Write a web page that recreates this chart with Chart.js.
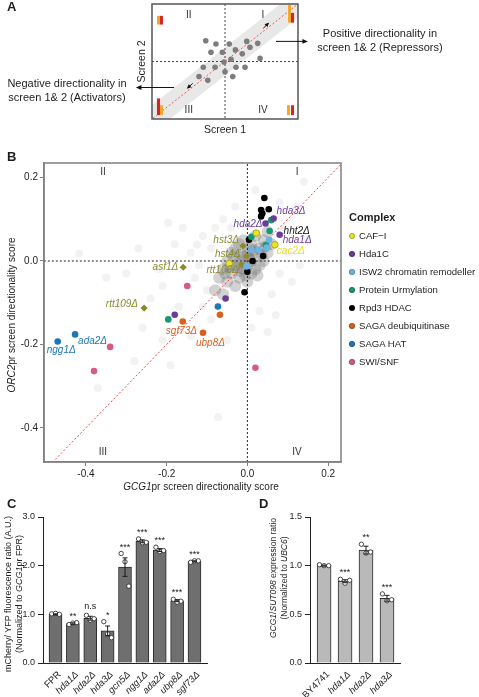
<!DOCTYPE html>
<html>
<head>
<meta charset="utf-8">
<title>Directionality screen</title>
<script src="https://cdn.jsdelivr.net/npm/chart.js@4.4.1/dist/chart.umd.min.js"></script>
<style>
  body { margin: 0; background: #fff; }
  #page { position: relative; width: 479px; height: 697px; overflow: hidden; font-family: "Liberation Sans", Arial, sans-serif; color: #1e1e1e; }
  #page canvas { position: absolute; }
  .txt { position: absolute; white-space: nowrap; z-index: 2; }
  .letter { font-weight: bold; font-size: 13px; line-height: 13px; }
  .center { transform: translateX(-50%); text-align: center; }
  .vert { transform: translate(-50%, -50%) rotate(-90deg); text-align: center; }
  .legend-row { position: absolute; left: 0; font-size: 9.6px; line-height: 12px; white-space: nowrap; }
  .dot { display: inline-block; width: 6px; height: 6px; border-radius: 50%; margin-right: 4px; vertical-align: 0px; box-sizing: border-box; }
</style>
</head>
<body>
<div id="page">
  <canvas id="chartA" width="479" height="140" style="left:0;top:0"></canvas>
  <canvas id="chartB" width="479" height="360" style="left:0;top:140px"></canvas>
  <canvas id="chartC" width="255" height="194" style="left:0;top:503px"></canvas>
  <canvas id="chartD" width="224" height="194" style="left:255px;top:503px"></canvas>

  <div class="txt letter" style="left:7px;top:0">A</div>
  <div class="txt letter" style="left:7px;top:150px">B</div>
  <div class="txt letter" style="left:7px;top:497px">C</div>
  <div class="txt letter" style="left:259px;top:497px">D</div>

  <div class="txt center" style="left:380px;top:27px;font-size:11px;line-height:13.5px">Positive directionality in<br>screen 1&amp; 2 (Repressors)</div>
  <div class="txt center" style="left:67px;top:76px;font-size:11px;line-height:14px">Negative directionality in<br>screen 1&amp; 2 (Activators)</div>

  <div class="txt center" style="left:201px;top:481px;font-size:10px;line-height:12px"><i>GCG1</i>pr screen directionality score</div>
  <div class="txt vert" style="left:12px;top:315px;font-size:10px;line-height:12px"><i>ORC2</i>pr screen directionality score</div>

  <div class="txt" style="left:349px;top:211px;font-size:11px;line-height:13px;font-weight:bold">Complex</div>
  <div id="legendB" class="txt" style="left:349px;top:236px"></div>

  <div class="txt vert" style="left:13px;top:594px;font-size:9px;line-height:10.5px">mCherry/ YFP fluorescence ratio (A.U.)<br>(Normalized to <i>GCG1</i>pr FPR)</div>
  <div class="txt vert" style="left:279px;top:578px;font-size:8.5px;line-height:11px"><i>GCG1</i>/<i>SUT098</i> expression ratio<br>(Normalized to <i>UBC6</i>)</div>
</div>

<script>
// ---- panel A: schematic
const schemeX = [3.68, 4.38, 4.04, 5.29, 4.82, 5.71, 6.49, 7.24, 6.71, 6.18, 7.40, 5.41, 4.93, 3.51, 4.32, 5.00, 5.75, 6.37, 3.22, 3.82, 5.53];
const schemeY = [6.81, 6.52, 5.81, 6.52, 5.81, 6.01, 6.75, 6.58, 6.24, 5.67, 5.27, 5.19, 4.96, 4.50, 4.50, 4.10, 4.50, 4.50, 3.70, 3.36, 3.70];
const quadrantNames = ["I", "II", "III", "IV"];

// ---- panel B: directionality scores (GCG1pr x, ORC2pr y)
const cafI = [[-0.045, -0.006], [0.022, 0.067], [0.068, 0.039]];
const cafINames = ["", "", "cac2Δ"];
const hda1C = [[0.065, 0.102], [0.045, 0.090], [0.080, 0.063], [-0.180, -0.129], [-0.054, -0.090]];
const hda1CNames = ["hda3Δ", "hda2Δ", "hda1Δ", "", ""];
const isw2 = [[0.054, 0.051], [0.048, 0.032], [0.028, 0.027], [0.010, 0.027], [-0.002, -0.013]];
const urmylation = [[0.059, 0.098], [0.055, 0.072], [0.046, 0.038], [0.010, 0.058], [-0.196, -0.140]];
const urmylationNames = ["", "hht2Δ", "", "", ""];
const rpd3 = [[0.042, 0.151], [0.034, 0.122], [0.037, 0.114], [0.034, 0.107], [0.053, 0.124], [0.004, 0.051], [0.039, 0.012], [0.013, 0.000], [0.000, -0.026], [-0.007, -0.075]];
const sagaDub = [[-0.160, -0.145], [-0.110, -0.172], [-0.068, -0.129]];
const sagaDubNames = ["sgf73Δ", "ubp8Δ", ""];
const sagaHat = [[-0.470, -0.193], [-0.427, -0.176], [-0.073, -0.109]];
const sagaHatNames = ["ngg1Δ", "ada2Δ", ""];
const swiSnf = [[-0.340, -0.206], [-0.380, -0.264], [-0.149, -0.060], [0.020, -0.256]];
const chaperone = [[-0.159, -0.015], [-0.256, -0.113], [-0.011, 0.036], [-0.002, 0.012], [-0.014, -0.008]];
const chaperoneNames = ["asf1Δ", "rtt109Δ", "hst3Δ", "hst4Δ", "rtt106Δ"];
const complexNames = ["CAF−I", "Hda1C", "ISW2 chromatin remodeller", "Protein Urmylation", "Rpd3 HDAC", "SAGA deubiquitinase", "SAGA HAT", "SWI/SNF"];
const bTicks = [-0.4, -0.2, 0.0, 0.2];

// all other mutants (grey cloud)
const bgOuter = [[-0.417, 0.018], [-0.371, -0.305], [-0.072, -0.374], [-0.24, -0.09], [-0.196, 0.092], [-0.125, 0.039],
  [-0.30, -0.03], [-0.27, 0.03], [-0.22, -0.02], [-0.21, -0.06], [-0.18, 0.04], [-0.16, 0.08], [-0.14, 0.02], [-0.13, -0.04],
  [-0.11, 0.06], [-0.10, -0.07], [-0.26, -0.16], [-0.21, -0.19], [-0.32, -0.11], [-0.14, -0.18], [-0.09, -0.14], [-0.05, -0.19],
  [0.03, -0.12], [0.06, -0.08], [0.08, -0.03], [0.10, 0.02], [0.09, 0.08], [0.12, 0.13], [0.11, -0.05], [0.15, 0.05],
  [-0.06, 0.10], [-0.03, 0.13], [0.02, 0.17], [-0.09, 0.03], [-0.17, -0.11], [-0.28, -0.24], [0.05, -0.17], [-0.11, -0.11],
  [0.14, 0.19], [0.04, 0.12], [-0.08, 0.08], [-0.12, -0.01], [0.07, -0.13], [-0.35, -0.04], [-0.19, -0.25], [0.01, -0.16],
  [-0.04, 0.08], [0.08, 0.14], [0.13, -0.01], [-0.07, -0.11]];
const bgCore = [[-0.07, -0.04], [-0.06, -0.02], [-0.05, -0.05], [-0.05, 0.0], [-0.04, -0.03], [-0.04, 0.02], [-0.03, -0.06],
  [-0.03, -0.01], [-0.03, 0.03], [-0.02, -0.04], [-0.02, 0.0], [-0.02, 0.04], [-0.01, -0.02], [-0.01, 0.01], [-0.01, 0.05],
  [0.0, -0.05], [0.0, -0.01], [0.0, 0.02], [0.01, -0.03], [0.01, 0.0], [0.01, 0.04], [0.02, -0.02], [0.02, 0.02], [0.02, 0.06],
  [0.03, -0.01], [0.03, 0.03], [0.04, 0.0], [0.04, 0.05], [0.05, 0.02], [0.06, 0.04], [-0.08, -0.07], [-0.06, -0.08],
  [0.05, 0.07], [-0.015, 0.015], [0.005, 0.005], [-0.025, -0.015], [0.015, 0.025], [-0.035, 0.01], [0.025, -0.035],
  [-0.045, -0.015], [-0.005, -0.035], [0.035, 0.015], [-0.015, -0.025], [0.005, 0.03], [-0.055, -0.03], [0.045, 0.035]];

// ---- panel C: reporter ratio
const cLabels = ["FPR", "hda1Δ", "hda2Δ", "hda3Δ", "gcn5Δ", "ngg1Δ", "ada2Δ", "ubp8Δ", "sgf73Δ"];
const cMeans = [1.0, 0.81, 0.92, 0.66, 1.97, 2.50, 2.32, 1.28, 2.09];
const cErrors = [0.01, 0.015, 0.04, 0.1, 0.19, 0.03, 0.03, 0.02, 0.01];
const cReps = [[1.01, 1.02, 1.0], [0.79, 0.82, 0.83], [0.98, 0.88, 0.91], [0.85, 0.60, 0.52], [2.25, 2.08, 1.58],
  [2.55, 2.47, 2.48], [2.38, 2.29, 2.31], [1.31, 1.25, 1.27], [2.07, 2.10, 2.10]];
const cSig = ["", "**", "n.s", "*", "***", "***", "***", "***", "***"];
const cTicks = [0, 1, 2, 3];

// ---- panel D: qPCR ratio
const dLabels = ["BY4741", "hda1Δ", "hda2Δ", "hda3Δ"];
const dMeans = [1.0, 0.84, 1.16, 0.665];
const dErrors = [0.005, 0.015, 0.04, 0.03];
const dReps = [[1.01, 1.0, 1.0], [0.86, 0.82, 0.85], [1.22, 1.13, 1.14], [0.71, 0.64, 0.65]];
const dSig = ["", "***", "**", "***"];
const dTicks = [0, 0.5, 1.0, 1.5];

const FONT = "'Liberation Sans', Arial, sans-serif";
Chart.defaults.font.family = FONT;
Chart.defaults.color = "#1e1e1e";
Chart.defaults.animation = false;
Chart.defaults.plugins.legend.display = false;
Chart.defaults.plugins.tooltip.enabled = false;

const complexColors = ["#ebe52a", "#6a3d9a", "#67b6e6", "#159a72", "#000000", "#d9601f", "#1f77b4", "#d65a86"];
const olive = "#8b8b2e";

function toXY(list) {
  return list.map((p) => ({ x: p[0], y: p[1] }));
}

function drawArrow(ctx, x1, y1, x2, y2, head) {
  const ang = Math.atan2(y2 - y1, x2 - x1);
  ctx.strokeStyle = "#111";
  ctx.fillStyle = "#111";
  ctx.lineWidth = 1;
  ctx.beginPath();
  ctx.moveTo(x1, y1);
  ctx.lineTo(x2 - head * 0.7 * Math.cos(ang), y2 - head * 0.7 * Math.sin(ang));
  ctx.stroke();
  ctx.beginPath();
  ctx.moveTo(x2, y2);
  ctx.lineTo(x2 - head * Math.cos(ang - 0.42), y2 - head * Math.sin(ang - 0.42));
  ctx.lineTo(x2 - head * Math.cos(ang + 0.42), y2 - head * Math.sin(ang + 0.42));
  ctx.closePath();
  ctx.fill();
}

// ---------------- panel A
const schemeDecor = {
  quadrants: [[7.6, 9.06], [2.52, 9.06], [2.52, 0.77], [7.6, 0.77]],
  bars: [
    { x0: 0.34, x1: 0.55, y0: 8.21, y1: 8.97, color: "#f5a623" }, { x0: 0.55, x1: 0.75, y0: 8.21, y1: 8.97, color: "#d0262b" },
    { x0: 9.32, x1: 9.52, y0: 8.38, y1: 9.91, color: "#f5a623" }, { x0: 9.52, x1: 9.73, y0: 8.38, y1: 9.23, color: "#d0262b" },
    { x0: 0.34, x1: 0.55, y0: 0.34, y1: 1.79, color: "#d0262b" }, { x0: 0.55, x1: 0.75, y0: 0.34, y1: 1.20, color: "#f5a623" },
    { x0: 9.25, x1: 9.45, y0: 0.34, y1: 1.20, color: "#f5a623" }, { x0: 9.52, x1: 9.73, y0: 0.34, y1: 1.20, color: "#d0262b" },
  ],
  arrows: [[8.49, 6.75, 10.68, 6.75, 6], [1.51, 2.74, -1.10, 2.74, 6], [7.62, 7.89, 8.03, 8.40, 5], [2.79, 3.10, 2.38, 2.62, 5]],
};

const schemePlugin = {
  id: "schemePlugin",
  beforeDatasetsDraw(chart) {
    const { ctx, chartArea: a, scales: { x, y } } = chart;
    ctx.save();
    ctx.strokeStyle = "#333";
    ctx.lineWidth = 0.9;
    ctx.setLineDash([2, 2]);
    ctx.beginPath();
    ctx.moveTo(x.getPixelForValue(5), a.top);
    ctx.lineTo(x.getPixelForValue(5), a.bottom);
    ctx.moveTo(a.left, y.getPixelForValue(5));
    ctx.lineTo(a.right, y.getPixelForValue(5));
    ctx.stroke();
    ctx.restore();
  },
  afterDatasetsDraw(chart) {
    const { ctx, chartArea: a, scales: { x, y } } = chart;
    ctx.save();
    schemeDecor.bars.forEach((b) => {
      const x0 = x.getPixelForValue(b.x0), x1 = x.getPixelForValue(b.x1);
      const y0 = y.getPixelForValue(b.y0), y1 = y.getPixelForValue(b.y1);
      ctx.fillStyle = b.color;
      ctx.fillRect(x0, y1, x1 - x0, y0 - y1);
    });
    ctx.strokeStyle = "#555";
    ctx.lineWidth = 1.5;
    ctx.strokeRect(a.left, a.top, a.width, a.height);
    ctx.font = "10px " + FONT;
    ctx.fillStyle = "#333";
    ctx.textAlign = "center";
    ctx.textBaseline = "middle";
    quadrantNames.forEach((q, i) => {
      const p = schemeDecor.quadrants[i];
      ctx.fillText(q, x.getPixelForValue(p[0]), y.getPixelForValue(p[1]));
    });
    schemeDecor.arrows.forEach((r) => {
      drawArrow(ctx, x.getPixelForValue(r[0]), y.getPixelForValue(r[1]), x.getPixelForValue(r[2]), y.getPixelForValue(r[3]), r[4]);
    });
    ctx.restore();
  },
};

new Chart(document.getElementById("chartA"), {
  type: "scatter",
  data: {
    datasets: [
      { type: "line", data: [{ x: -1, y: -1 }, { x: 11, y: 11 }], borderColor: "rgba(0,0,0,0.09)", borderWidth: 22, pointRadius: 0, clip: 0, order: 3 },
      { type: "line", data: [{ x: -1, y: -1 }, { x: 11, y: 11 }], borderColor: "#ef5a4f", borderWidth: 1, borderDash: [2, 2], pointRadius: 0, clip: 0, order: 2 },
      { data: schemeX.map((v, i) => ({ x: v, y: schemeY[i] })), backgroundColor: "#7d7d7d", borderWidth: 0, pointRadius: 2.8, order: 1 },
    ],
  },
  options: {
    responsive: false,
    layout: { padding: { left: 132, right: 181, top: 2, bottom: 0 } },
    scales: {
      x: {
        type: "linear", min: 0, max: 10,
        grid: { display: false }, border: { display: false }, ticks: { display: false },
        title: { display: true, text: "Screen 1", font: { size: 10.5 }, padding: { top: 4, bottom: 4 } },
        afterFit: (s) => { s.height = 21; },
      },
      y: {
        type: "linear", min: 0, max: 10,
        grid: { display: false }, border: { display: false }, ticks: { display: false },
        title: { display: true, text: "Screen 2", font: { size: 10.5 }, padding: { top: 4, bottom: 4 } },
        afterFit: (s) => { s.width = 20; },
      },
    },
  },
  plugins: [schemePlugin],
});

// ---------------- panel B
const labelSets = [
  { points: cafI, names: cafINames, color: "#e4e02a" },
  { points: hda1C, names: hda1CNames, color: complexColors[1] },
  { points: urmylation, names: urmylationNames, color: "#111" },
  { points: sagaDub, names: sagaDubNames, color: complexColors[5] },
  { points: sagaHat, names: sagaHatNames, color: complexColors[6] },
  { points: chaperone, names: chaperoneNames, color: olive },
];
const labelOffsets = {
  "hda3Δ": [3, -7, "left"], "hda2Δ": [-3, 1, "right"], "hht2Δ": [14, 0, "left"], "hda1Δ": [3, 5, "left"],
  "cac2Δ": [2, 6, "left"], "hst3Δ": [-4, -6, "right"], "hst4Δ": [-6, -2, "right"], "rtt106Δ": [-3, 6, "right"],
  "asf1Δ": [-5, 0, "right"], "rtt109Δ": [-6, -4, "right"], "ngg1Δ": [-11, 9, "left"], "ada2Δ": [3, 7, "left"],
  "sgf73Δ": [-17, 10, "left"], "ubp8Δ": [-7, 10, "left"],
};
const bQuadrants = [[0.123, 0.213], [-0.358, 0.213], [-0.358, -0.458], [0.123, -0.458]];

const scatterDecor = {
  id: "scatterDecor",
  afterDatasetsDraw(chart) {
    const { ctx, chartArea: a, scales: { x, y } } = chart;
    ctx.save();
    ctx.strokeStyle = "#808080";
    ctx.lineWidth = 1.5;
    ctx.strokeRect(a.left, a.top, a.width, a.height);
    ctx.font = "10px " + FONT;
    ctx.fillStyle = "#333";
    ctx.textAlign = "center";
    ctx.textBaseline = "middle";
    quadrantNames.forEach((q, i) => {
      ctx.fillText(q, x.getPixelForValue(bQuadrants[i][0]), y.getPixelForValue(bQuadrants[i][1]));
    });
    ctx.font = "italic 10px " + FONT;
    labelSets.forEach((set) => {
      set.points.forEach((p, i) => {
        const name = set.names[i];
        if (!name) return;
        const off = labelOffsets[name];
        ctx.fillStyle = set.color;
        ctx.textAlign = off[2];
        ctx.fillText(name, x.getPixelForValue(p[0]) + off[0], y.getPixelForValue(p[1]) + off[1]);
      });
    });
    ctx.restore();
  },
};

const complexSets = [cafI, hda1C, isw2, urmylation, rpd3, sagaDub, sagaHat, swiSnf];
const bDatasets = [
  { data: toXY(bgOuter), backgroundColor: "rgba(160,160,160,0.14)", borderWidth: 0, pointRadius: 4, order: 20 },
  { data: toXY(bgCore), backgroundColor: "rgba(105,105,105,0.3)", borderWidth: 0, pointRadius: 6, order: 19 },
  { type: "line", data: [{ x: 0, y: -1 }, { x: 0, y: 1 }], borderColor: "#222", borderWidth: 1, borderDash: [2, 2], pointRadius: 0, clip: 0, order: 18 },
  { type: "line", data: [{ x: -1, y: 0 }, { x: 1, y: 0 }], borderColor: "#222", borderWidth: 1, borderDash: [2, 2], pointRadius: 0, clip: 0, order: 17 },
  { type: "line", data: [{ x: -1, y: -1 }, { x: 1, y: 1 }], borderColor: "#f04848", borderWidth: 1, borderDash: [2, 2], pointRadius: 0, clip: 0, order: 16 },
  { data: toXY(chaperone), backgroundColor: olive, borderWidth: 0, pointStyle: "rectRot", pointRadius: 3.6, order: 2 },
];
complexSets.forEach((pts, i) => {
  bDatasets.push({
    data: toXY(pts),
    backgroundColor: complexColors[i],
    borderColor: i === 0 ? "#a9a51c" : complexColors[i],
    borderWidth: i === 0 ? 1 : 0,
    pointRadius: 3.3,
    order: 1,
  });
});

const bAxis = (size) => ({
  type: "linear",
  afterBuildTicks: (s) => { s.ticks = bTicks.map((v) => ({ value: v })); },
  grid: { display: true, drawOnChartArea: false, tickLength: 4, color: "#808080" },
  border: { display: true, color: "#808080", width: 1.5 },
  ticks: { font: { size: 10 }, padding: 2, callback: (v) => v.toFixed(1) },
  afterFit: size,
});

new Chart(document.getElementById("chartB"), {
  type: "scatter",
  data: { datasets: bDatasets },
  options: {
    responsive: false,
    layout: { padding: { left: 0, right: 138, top: 23, bottom: 0 } },
    scales: {
      x: Object.assign(bAxis((s) => { s.height = 38; }), { min: -0.504, max: 0.232 }),
      y: Object.assign(bAxis((s) => { s.width = 44; }), { min: -0.482, max: 0.235 }),
    },
  },
  plugins: [scatterDecor],
});

const legendBox = document.getElementById("legendB");
complexNames.forEach((name, i) => {
  const row = document.createElement("div");
  row.className = "legend-row";
  row.style.top = (i * 18.05 - 6) + "px";
  const border = i === 0 ? "#a9a51c" : "rgba(0,0,0,0.25)";
  row.innerHTML = `<span class="dot" style="background:${complexColors[i]};border:1px solid ${border}"></span>${name}`;
  legendBox.appendChild(row);
});

// ---------------- panels C and D
const errorBars = {
  id: "errorBars",
  afterDatasetsDraw(chart, args, opts) {
    const { ctx, scales: { x, y } } = chart;
    ctx.save();
    ctx.strokeStyle = "#1a1a1a";
    ctx.fillStyle = "#1a1a1a";
    ctx.lineWidth = 1;
    ctx.textAlign = "center";
    ctx.textBaseline = "alphabetic";
    ctx.font = "9px " + FONT;
    opts.means.forEach((m, i) => {
      const px = x.getPixelForValue(i);
      const hi = y.getPixelForValue(m + opts.errors[i]);
      const lo = y.getPixelForValue(m - opts.errors[i]);
      ctx.beginPath();
      ctx.moveTo(px, lo);
      ctx.lineTo(px, hi);
      ctx.moveTo(px - 2.5, hi);
      ctx.lineTo(px + 2.5, hi);
      ctx.moveTo(px - 2.5, lo);
      ctx.lineTo(px + 2.5, lo);
      ctx.stroke();
      const label = opts.sig[i];
      if (!label) return;
      const top = Math.min(hi, ...opts.reps[i].map((v) => y.getPixelForValue(v)));
      ctx.fillText(label, px, top - (label.includes("*") ? 4 : 6));
    });
    ctx.restore();
  },
};

function repPoints(reps) {
  return reps.flatMap((r, i) => r.map((v, j) => ({ x: i + (j - 1) * 0.22, y: v })));
}

function barPanel(id, labels, means, errors, reps, sig, yTicks, look) {
  return new Chart(document.getElementById(id), {
    type: "bar",
    data: {
      datasets: [
        { type: "scatter", data: repPoints(reps), pointRadius: 2.2, pointBackgroundColor: "#fff", pointBorderColor: "#333", pointBorderWidth: 0.9, order: 0 },
        { type: "bar", data: means.map((v, i) => ({ x: i, y: v })), backgroundColor: look.fill, borderColor: "#2a2a2a", borderWidth: 1, barThickness: look.barWidth, order: 1 },
      ],
    },
    options: {
      responsive: false,
      layout: { padding: { left: 0, right: look.padRight, top: 14, bottom: 0 } },
      scales: {
        x: {
          type: "linear", min: look.xMin, max: look.xMax, offset: false,
          afterBuildTicks: (s) => { s.ticks = labels.map((_, i) => ({ value: i })); },
          afterFit: (s) => { s.height = 34; s.paddingLeft = 0; s.paddingRight = 0; },
          grid: { display: false, offset: false },
          border: { display: true, color: "#222", width: 1 },
          ticks: {
            autoSkip: false, minRotation: 45, maxRotation: 45, padding: -2, labelOffset: 4,
            callback: (v) => labels[v],
            font: (c) => ({ size: 9.5, style: c.index === 0 ? "normal" : "italic" }),
          },
        },
        y: {
          min: 0, max: yTicks[yTicks.length - 1],
          afterBuildTicks: (s) => { s.ticks = yTicks.map((v) => ({ value: v })); },
          afterFit: (s) => { s.width = look.yWidth; },
          grid: { display: true, drawOnChartArea: false, tickLength: 5, color: "#222" },
          border: { display: true, color: "#222", width: 1 },
          ticks: { font: { size: 9 }, padding: 3, callback: (v) => v.toFixed(1) },
        },
      },
      plugins: { errorBars: { means, errors, reps, sig } },
    },
    plugins: [errorBars],
  });
}

barPanel("chartC", cLabels, cMeans, cErrors, cReps, cSig, cTicks,
  { fill: "#6f6f6f", barWidth: 13, xMin: -0.72, xMax: 8.72, padRight: 48, yWidth: 43 });
barPanel("chartD", dLabels, dMeans, dErrors, dReps, dSig, dTicks,
  { fill: "#b9b9b9", barWidth: 14, xMin: -0.67, xMax: 3.62, padRight: 79, yWidth: 55 });
</script>
</body>
</html>
